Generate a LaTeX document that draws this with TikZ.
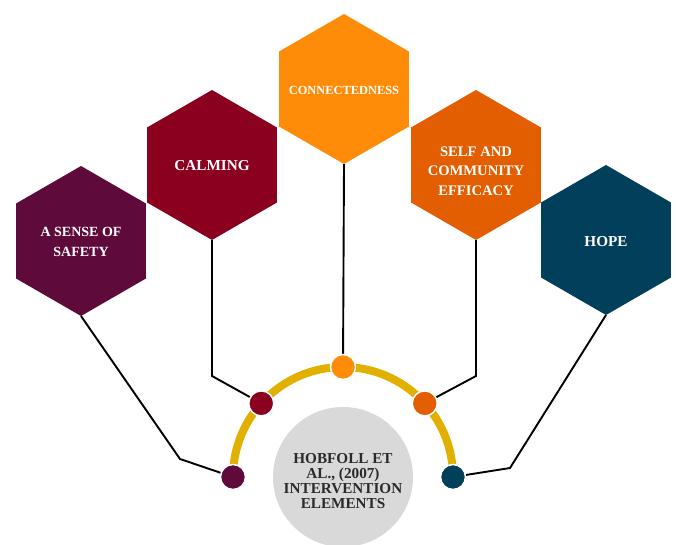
\documentclass[tikz,border=0pt]{standalone}
\usepackage{fontspec}
\setmainfont{Liberation Serif}
\usetikzlibrary{shapes.geometric}

\definecolor{cSafety}{HTML}{5E0B3B}
\definecolor{cCalm}{HTML}{8C001F}
\definecolor{cConn}{HTML}{FF8C08}
\definecolor{cSelf}{HTML}{E25E00}
\definecolor{cHope}{HTML}{013F5A}
\definecolor{cArc}{HTML}{E2B000}
\definecolor{cHub}{HTML}{D9D9D9}
\definecolor{cHubText}{HTML}{2A2A2A}

\tikzset{
  hexbox/.style={regular polygon, regular polygon sides=6, shape border rotate=30,
    minimum size=150pt, inner sep=0pt, outer sep=0pt, fill=#1, draw=none},
  hexlabel/.style={text=white, align=center, inner sep=0pt},
  dotmark/.style={circle, minimum size=25pt, inner sep=0pt, fill=#1, draw=white, line width=1.5pt},
  link/.style={draw=black, line width=1.9pt},
}

\begin{document}
\begin{tikzpicture}[x=1pt,y=-1pt]
  \useasboundingbox (0,0) rectangle (676,545);
  \clip (0,0) rectangle (676,545);

  % hexagons
  \node[hexbox=cSafety] (safety) at (81,241) {};
  \node[hexbox=cCalm] (calm) at (212,165) {};
  \node[hexbox=cConn] (conn) at (344,89) {};
  \node[hexbox=cSelf] (self) at (476,165) {};
  \node[hexbox=cHope] (hope) at (606,240) {};

  % hexagon labels
  \node[hexlabel, font=\bfseries\fontsize{14}{20}\selectfont] (safetyText) at (81,242)
    {A SENSE OF\\SAFETY};
  \node[hexlabel, font=\bfseries\fontsize{15.2}{20}\selectfont] (calmText) at (212,166)
    {CALMING};
  \node[hexlabel, font=\bfseries\fontsize{12.4}{18}\selectfont] (connText) at (344,90)
    {CONNECTEDNESS};
  \node[hexlabel, font=\bfseries\fontsize{14.6}{19.5}\selectfont] (selfText) at (476,171)
    {SELF AND\\COMMUNITY\\EFFICACY};
  \node[hexlabel, font=\bfseries\fontsize{15.2}{20}\selectfont] (hopeText) at (606,242)
    {HOPE};

  % central hub
  \node[circle, fill=cHub, minimum size=140pt, inner sep=0pt] (hub) at (343,477) {};
  \node[text=cHubText, align=center, inner sep=0pt,
        font=\bfseries\fontsize{15.2}{14.7}\selectfont]
    (hubText) at (343,481) {HOBFOLL ET\\AL., (2007)\\INTERVENTION\\ELEMENTS};

  % arc around the hub
  \draw[cArc, line width=8pt] (233,477) arc[start angle=-180, end angle=0, radius=110];

  % dots on the arc
  \coordinate (c0) at (343,477);
  \coordinate (p1) at ([shift={(-180:110)}]c0);
  \coordinate (p2) at ([shift={(-138:110)}]c0);
  \coordinate (p3) at ([shift={(-90:110)}]c0);
  \coordinate (p4) at ([shift={(-42:110)}]c0);
  \coordinate (p5) at ([shift={(0:110)}]c0);

  % bends of the connectors
  \coordinate (kSafety) at (180,459);
  \coordinate (kCalm) at (212,376);
  \coordinate (kSelf) at (476,376);
  \coordinate (kHope) at (510,468);

  % connectors
  \draw[link] (safety.south) -- (kSafety) -- (p1);
  \draw[link] (calm.south) -- (kCalm) -- (p2);
  \draw[link] (conn.south) -- (p3);
  \draw[link] (self.south) -- (kSelf) -- (p4);
  \draw[link] (hope.south) -- (kHope) -- (p5);

  \node[dotmark=cSafety] (d1) at (p1) {};
  \node[dotmark=cCalm] (d2) at (p2) {};
  \node[dotmark=cConn] (d3) at (p3) {};
  \node[dotmark=cSelf] (d4) at (p4) {};
  \node[dotmark=cHope] (d5) at (p5) {};
\end{tikzpicture}
\end{document}
